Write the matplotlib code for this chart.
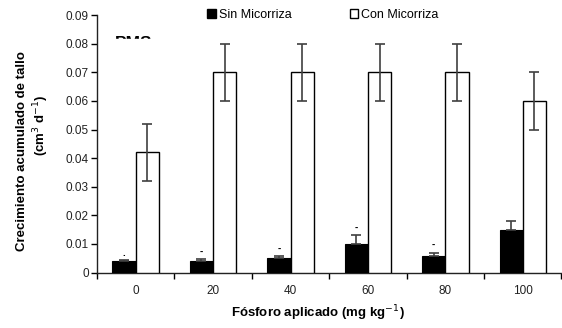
import matplotlib
matplotlib.use("Agg")
import matplotlib.pyplot as plt
from matplotlib.patches import Patch, Rectangle
import numpy as np

plt.rcParams['font.family'] = ['Liberation Sans', 'DejaVu Sans']

fosforo = ['0', '20', '40', '60', '80', '100']
sin_mic = [0.004, 0.004, 0.0052, 0.010, 0.0059, 0.0149]
sin_err = [0.0004, 0.0007, 0.0007, 0.003, 0.0011, 0.003]
con_mic = [0.042, 0.070, 0.070, 0.070, 0.070, 0.060]
con_err = [0.010, 0.010, 0.010, 0.010, 0.010, 0.010]
marcas = ['.', '-', '-', '-', '-', '']

x = np.arange(len(fosforo))
w = 0.3

fig = plt.figure(figsize=(5.62, 3.28), dpi=100)
ax = fig.add_axes([0.1726, 0.169, 0.8264, 0.785])

ax.bar(x - w / 2, sin_mic, w, color='black', edgecolor='black', linewidth=0.8,
       yerr=[np.zeros(len(x)), sin_err], ecolor='#404040',
       error_kw=dict(capsize=3.5, elinewidth=1.2, capthick=1.2), zorder=3)
ax.bar(x + w / 2, con_mic, w, color='white', edgecolor='black', linewidth=1.0,
       yerr=con_err, ecolor='#404040',
       error_kw=dict(capsize=3.5, elinewidth=1.2, capthick=1.2), zorder=3)

for xi, v, e, m in zip(x, sin_mic, sin_err, marcas):
    if m:
        ax.text(xi - w / 2, v + e + 0.0025, m, ha='center', va='center',
                fontsize=7, fontweight='bold', zorder=4)

# "PMS" mostly hidden behind a white box, as in the original
ax.text(-0.27, 0.0826, 'PMS', ha='left', va='top', fontsize=12.5,
        fontweight='bold', zorder=2)
ax.add_patch(Rectangle((-0.4, 0.070), 0.9, 0.0118, color='white', zorder=2.5))

ax.set_xlim(-0.5, 5.5)
ax.set_ylim(0, 0.09)
ax.set_yticks(np.arange(0, 0.091, 0.01))
ax.set_yticklabels(['0'] + [f'{v:.2f}' for v in np.arange(0.01, 0.091, 0.01)])
ax.set_xticks(x)
ax.set_xticklabels(fosforo)
ax.set_xticks(np.arange(-0.5, 5.6, 1), minor=True)
ax.tick_params(axis='x', which='major', length=0, pad=9, labelsize=8.5,
               labelcolor='#222222')
ax.tick_params(axis='x', which='minor', length=4, width=1, direction='out')
ax.tick_params(axis='y', length=4, width=1, direction='out', labelsize=8.5,
               pad=2, labelcolor='#222222')
for s in ['top', 'right']:
    ax.spines[s].set_visible(False)
for s in ['left', 'bottom']:
    ax.spines[s].set_linewidth(1.0)
    ax.spines[s].set_color('#222222')

fig.text(0.565, 0.045, 'Fósforo aplicado (mg kg$^{-1}$)', ha='center',
         va='center', fontsize=9.5, fontweight='bold')
fig.text(0.039, 0.54, 'Crecimiento acumulado de tallo', rotation=90,
         ha='center', va='center', fontsize=9.5, fontweight='bold')
fig.text(0.073, 0.619, '(cm$^{3}$ d$^{-1}$)', rotation=90,
         ha='center', va='center', fontsize=9.5, fontweight='bold')

handles = [Patch(facecolor='black', edgecolor='black', label='Sin Micorriza'),
           Patch(facecolor='white', edgecolor='black', label='Con Micorriza')]
fig.legend(handles=handles, loc='center', bbox_to_anchor=(0.575, 0.955),
           ncol=2, frameon=False, fontsize=9, handlelength=0.7,
           handleheight=0.7, handletextpad=0.25, columnspacing=4.6)

fig.savefig('out.png', dpi=100)
